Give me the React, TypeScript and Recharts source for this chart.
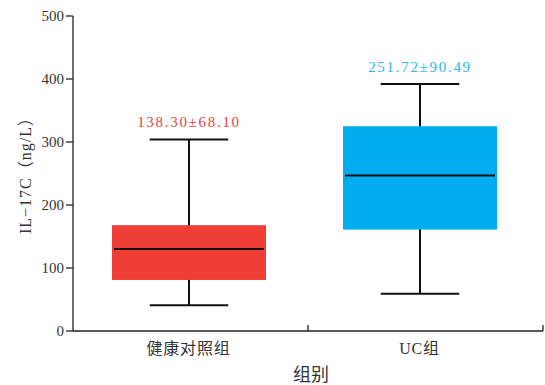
import React from "react";
import { ComposedChart, Bar, XAxis, YAxis } from "recharts";

// group summaries (ng/L)
const groups = ["健康对照组", "UC组"];
const whiskerLow = [41, 59];
const quartile1 = [81, 161];
const medians = [130, 247];
const quartile3 = [168, 325];
const whiskerHigh = [304, 392];
const meanSd = ["138.30±68.10", "251.72±90.49"];
const boxColors = ["#EF3E36", "#00AEEF"];
const labelColors = ["#E8413D", "#2CB7F0"];
const yTicks = [0, 100, 200, 300, 400, 500];

const data = groups.map((g, i) => ({
  group: g,
  range: [whiskerLow[i], whiskerHigh[i]],
  q1: quartile1[i],
  median: medians[i],
  q3: quartile3[i],
  label: meanSd[i],
  color: boxColors[i],
  labelColor: labelColors[i],
}));

const SERIF = '"Liberation Serif", "Times New Roman", "Noto Sans CJK SC", serif';
const PAD_RIGHT = 8;

// box + whiskers drawn inside the bar's [low, high] extent
const BoxShape = (props: any) => {
  const { x, y, width, height, payload } = props;
  const [lo, hi] = payload.range;
  const unit = height / (hi - lo);
  const py = (v: number) => y + (hi - v) * unit;
  const cx = x + width / 2;
  const capW = width * 0.51;
  return (
    <g>
      <line x1={cx} x2={cx} y1={py(hi)} y2={py(lo)} stroke="#111" strokeWidth={2} />
      <line x1={cx - capW / 2} x2={cx + capW / 2} y1={py(hi)} y2={py(hi)} stroke="#111" strokeWidth={2} />
      <line x1={cx - capW / 2} x2={cx + capW / 2} y1={py(lo)} y2={py(lo)} stroke="#111" strokeWidth={2} />
      <rect x={x} y={py(payload.q3)} width={width} height={py(payload.q1) - py(payload.q3)} fill={payload.color} />
      <line x1={x + 2} x2={x + width - 2} y1={py(payload.median)} y2={py(payload.median)} stroke="#111" strokeWidth={2} />
      <text
        x={cx}
        y={py(hi) - 12}
        textAnchor="middle"
        fontFamily={SERIF}
        fontSize={15}
        letterSpacing={1.7}
        fill={payload.labelColor}
      >
        {payload.label}
      </text>
    </g>
  );
};

// category label plus an inward tick at the right edge of each band
// (the axis right padding is spread over the bands so the last tick sits at the axis end)
const GroupTick = (props: any) => {
  const { x, y, payload, index, visibleTicksCount } = props;
  const n = visibleTicksCount || groups.length;
  const edge = x + (payload.offset || 0) + (PAD_RIGHT * (index + 1)) / n;
  return (
    <g>
      <line x1={edge} x2={edge} y1={y} y2={y - 6} stroke="#222" strokeWidth={1.3} />
      <text x={x} y={y + 17} textAnchor="middle" dominantBaseline="central" fontFamily={SERIF} fontSize={16} letterSpacing={0.8} fill="#333">
        {payload.value}
      </text>
    </g>
  );
};

export default function App() {
  return (
    <div style={{ position: "absolute", left: 0, top: 0, fontFamily: SERIF }}>
      <ComposedChart width={545} height={385} data={data} margin={{ top: 16, right: 2, left: 0, bottom: 0 }}>
        <XAxis
          dataKey="group"
          height={54}
          padding={{ left: 0, right: PAD_RIGHT }}
          tickLine={false}
          tickSize={0}
          tickMargin={0}
          axisLine={{ stroke: "#222", strokeWidth: 1.3 }}
          tick={<GroupTick />}
          label={{
            content: (p: any) => {
              const vb = p.viewBox;
              return (
                <text x={vb.x + vb.width / 2 + 3} y={vb.y + 44} textAnchor="middle" dominantBaseline="central" fontFamily={SERIF} fontSize={18} fill="#333">
                  组别
                </text>
              );
            },
          }}
        />
        <YAxis
          width={73}
          domain={[0, 500]}
          ticks={yTicks}
          tickSize={7}
          tickMargin={2}
          tickLine={{ stroke: "#222", strokeWidth: 1.3 }}
          axisLine={{ stroke: "#222", strokeWidth: 1.3 }}
          tick={{ fontFamily: SERIF, fontSize: 15, fill: "#333" }}
          label={{
            content: (p: any) => {
              const vb = p.viewBox;
              const cx = vb.x + 25;
              const cy = vb.y + vb.height / 2 - 2;
              return (
                <text x={cx} y={cy} transform={`rotate(-90 ${cx} ${cy})`} textAnchor="middle" dominantBaseline="central" fontFamily={SERIF} fontSize={16} letterSpacing={1} fill="#333">
                  IL−17C（ng/L）
                </text>
              );
            },
          }}
        />
        <Bar dataKey="range" barSize={154} shape={<BoxShape />} isAnimationActive={false} />
      </ComposedChart>
    </div>
  );
}
